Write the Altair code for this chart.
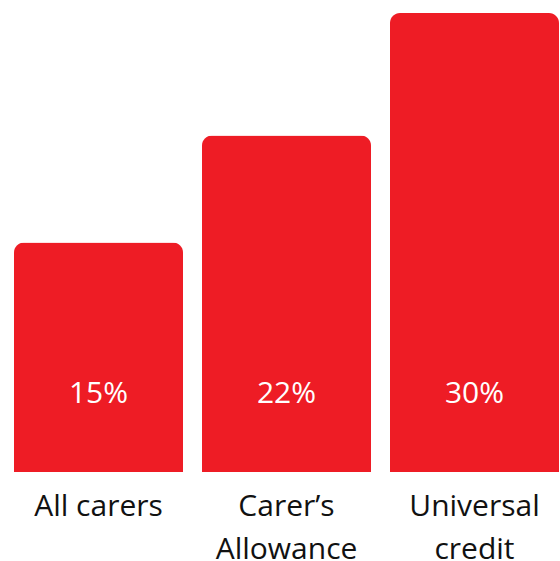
import altair as alt
import pandas as pd

# Share of carers in each group
categories = ["All carers", "Carer’s|Allowance", "Universal|credit"]
shares = [15, 22, 30]
labels = ["15%", "22%", "30%"]

df = pd.DataFrame({"group": categories, "share": shares, "label": labels})

RED = "#EE1C25"
FONT = "Open Sans"

x = alt.X(
    "group:N",
    sort=categories,
    title=None,
    scale=alt.Scale(paddingInner=0.101, paddingOuter=0),
    axis=alt.Axis(
        labelAngle=0,
        domain=False,
        ticks=False,
        grid=False,
        labelExpr="split(datum.value, '|')",
        labelFont=FONT,
        labelFontSize=30,
        labelColor="#111111",
        labelLineHeight=43,
        labelPadding=19,
        labelLimit=400,
        labelOverlap=False,
    ),
)

y = alt.Y(
    "share:Q",
    title=None,
    scale=alt.Scale(domain=[0, 30], nice=False, zero=True),
    axis=None,
)

bars = alt.Chart().mark_bar(
    color=RED, cornerRadiusTopLeft=10, cornerRadiusTopRight=10
).encode(y=y)

values = alt.Chart().mark_text(
    font=FONT, fontSize=30, color="white", baseline="middle", dy=-78
).encode(y=alt.datum(0), text="label:N")

chart = (
    alt.layer(bars, values, data=df)
    .encode(x=x)
    .properties(
        width=545,
        height=459,
        background="white",
        autosize=alt.AutoSizeParams(type="none"),
        padding={"left": 14, "top": 13, "right": 1, "bottom": 89},
    )
    .configure_view(strokeWidth=0)
)

chart.save("out.html", embed_options={"renderer": "svg", "actions": False})
